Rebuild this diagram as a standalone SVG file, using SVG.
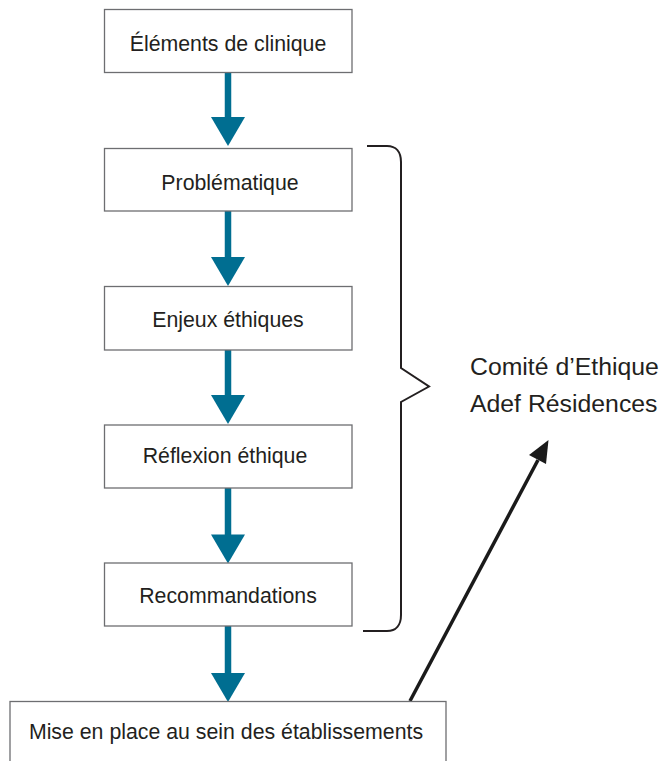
<svg xmlns="http://www.w3.org/2000/svg" width="670" height="761" viewBox="0 0 670 761">
  <style>
    .box { fill: #ffffff; stroke: #6d6e71; stroke-width: 1.3; }
    .lbl { font-family: "Liberation Sans", Arial, sans-serif; font-size: 21.3px; fill: #231f20; text-anchor: middle; }
    .side { font-family: "Liberation Sans", Arial, sans-serif; font-size: 24.8px; fill: #231f20; }
    .shaft { stroke: #006e91; stroke-width: 6.5; fill: none; }
    .head { fill: #006e91; stroke: none; }
    .brace { fill: none; stroke: #231f20; stroke-width: 2; }
    .diag { stroke: #1a1a1a; stroke-width: 3.5; fill: none; }
  </style>
  <rect width="670" height="761" fill="#ffffff"/>

  <g id="connectors">
    <line class="shaft" x1="228" y1="72.5" x2="228" y2="118"/>
    <polygon class="head" points="211,117 245,117 228,146"/>
    <line class="shaft" x1="228" y1="211" x2="228" y2="258"/>
    <polygon class="head" points="211,257 245,257 228,286"/>
    <line class="shaft" x1="228" y1="350" x2="228" y2="396"/>
    <polygon class="head" points="211,395 245,395 228,424"/>
    <line class="shaft" x1="228" y1="488" x2="228" y2="535"/>
    <polygon class="head" points="211,534.5 245,534.5 228,563.5"/>
    <line class="shaft" x1="228" y1="626" x2="228" y2="674"/>
    <polygon class="head" points="211,673 245,673 228,702"/>
    <path class="brace" d="M367,146 H387 C396,146 401,152 401,162 V368 L429,386.5 L401,402 V615 C401,625 396,631 387,631 H363"/>
    <line class="diag" x1="410" y1="701" x2="538" y2="460"/>
    <polygon fill="#1a1a1a" points="548.5,440 546,464 529,455"/>
  </g>

  <g id="n1">
    <rect class="box" x="104.5" y="9.5" width="247.5" height="63"/>
    <text class="lbl" x="228" y="51">Éléments de clinique</text>
  </g>
  <g id="n2">
    <rect class="box" x="104.5" y="148.5" width="247.5" height="62.5"/>
    <text class="lbl" x="230" y="190">Problématique</text>
  </g>
  <g id="n3">
    <rect class="box" x="104.5" y="286.5" width="247.5" height="63.5"/>
    <text class="lbl" x="228" y="327">Enjeux éthiques</text>
  </g>
  <g id="n4">
    <rect class="box" x="104.5" y="425" width="247.5" height="63"/>
    <text class="lbl" x="225" y="463">Réflexion éthique</text>
  </g>
  <g id="n5">
    <rect class="box" x="104.5" y="563" width="247.5" height="63"/>
    <text class="lbl" x="228" y="603">Recommandations</text>
  </g>
  <g id="n6">
    <rect class="box" x="10" y="701.5" width="436" height="80"/>
    <text class="lbl" x="226" y="739">Mise en place au sein des établissements</text>
  </g>
  <g id="n7">
    <text class="side" x="470" y="375">Comité d’Ethique</text>
    <text class="side" x="470" y="411.5">Adef Résidences</text>
  </g>
</svg>
